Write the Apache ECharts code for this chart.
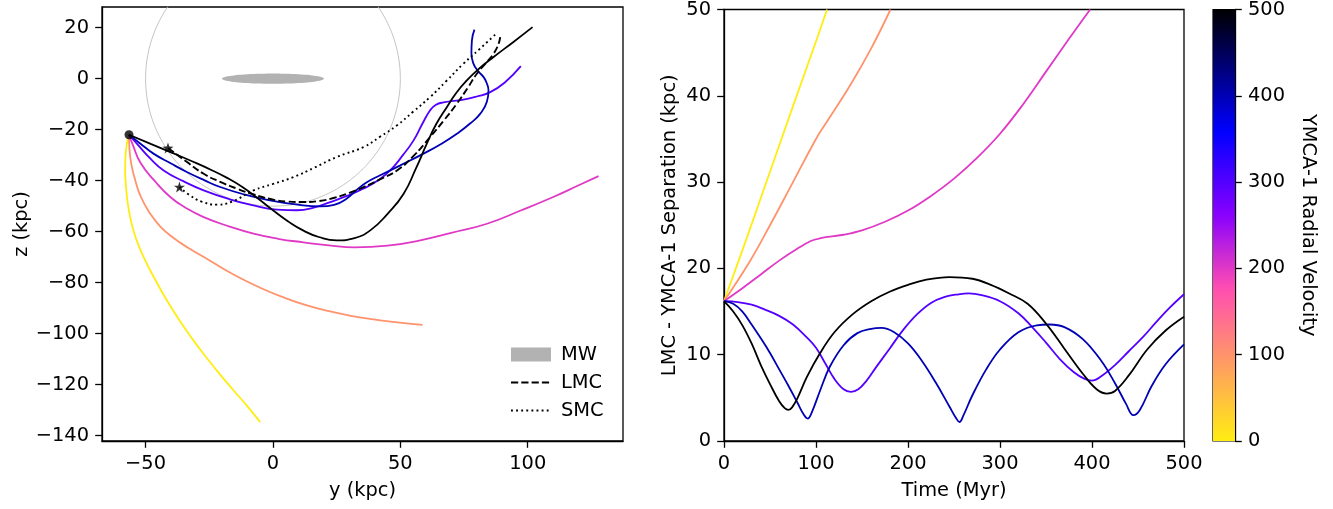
<!DOCTYPE html>
<html>
<head>
<meta charset="utf-8">
<script src="https://cdn.jsdelivr.net/npm/echarts@6/dist/echarts.min.js"></script>
<style>
  html, body { margin: 0; padding: 0; background: #ffffff; }
  #chart { width: 1333px; height: 509px; }
</style>
</head>
<body>
<div id="chart"></div>
<script>
// ---- Orbit data: (y, z) in kpc, one list per trial radial velocity ----
const velocities = [0, 100, 200, 300, 400, 500];

const orbitV0 = [[-56.5,-22],[-57.4,-26],[-57.9,-31],[-58.0,-36],[-57.7,-42],[-57.1,-48],[-56.1,-54],[-54.6,-60],
  [-52.7,-65.5],[-50.3,-71],[-47.2,-77],[-41.6,-87],[-35.2,-97],[-28.7,-106],[-22,-114.5],[-15.5,-122.2],[-10,-128.5],[-5,-134.7]];
const orbitV100 = [[-56.5,-22],[-56.3,-28],[-55.5,-34],[-54,-40],[-52,-46],[-48.5,-52.5],[-44.2,-58],[-39,-62.5],
  [-33,-66.5],[-25,-71.2],[-15.5,-76.8],[-5,-82],[4.2,-85.8],[13,-88.8],[22.5,-91.3],[30,-92.9],[38,-94.2],[48,-95.5],[58.7,-96.6]];
const orbitV200 = [[-56.5,-22],[-55,-26],[-52,-33],[-46.5,-40],[-40.3,-46.4],[-34,-50.8],[-27.2,-54.3],[-17,-58],
  [-7.6,-60.8],[2,-62.8],[12,-64.2],[22,-65.4],[32,-66.2],[45,-65.5],[57.8,-63.4],[70,-60.5],[84,-56.9],
  [97,-51.8],[110,-46.4],[120,-41.8],[127.8,-38.2]];
const orbitV300 = [[-56.5,-22],[-53,-26],[-48,-31.5],[-42.9,-36],[-35,-40.3],[-27.2,-43.8],[-17,-47.3],[-7.6,-49.7],
  [1.6,-51.4],[9.4,-51.6],[16,-50.6],[22.5,-48.4],[29,-46],[35.6,-43.1],[41,-40],[46,-36],[51,-30],[55.2,-24.2],
  [58.5,-18],[61.7,-12.4],[64,-10.2],[67,-9.3],[74.8,-8.2],[80,-7],[85.3,-5.3],[91,-1.5],[97.3,4.9]];
const orbitV400 = [[-56.5,-22],[-52,-25.5],[-46.9,-29.4],[-40,-33.3],[-33.8,-36.6],[-27,-39.8],[-20.7,-42.5],[-11,-45.5],
  [-1.1,-47.7],[9,-49.3],[18.6,-50.1],[24,-49.5],[29,-47],[33,-43.5],[37,-40.5],[42.1,-37.9],[50,-34],[59.1,-29.4],
  [66,-25.6],[72.2,-21.6],[77.5,-17.5],[81.4,-13.7],[84,-9],[84.6,-4.6],[83.8,-1.5],[82.7,0.6],[80.5,3],[78.7,5.9],
  [77.9,10],[78.1,15],[79.1,19.2]];
const orbitV500 = [[-56.5,-22],[-48,-25.6],[-40,-28.9],[-32,-32.3],[-24,-35.9],[-18,-38.9],[-12,-42.5],[-6,-46.9],
  [0,-51.6],[6,-56],[12,-59.6],[18,-62.1],[25,-63.4],[32,-62.5],[38.2,-59.5],[45,-53],[51.3,-45.1],[56,-35.5],
  [60.4,-25.5],[64,-18],[68.3,-11.1],[72,-5.5],[76.1,-0.7],[81,4],[86.6,8.5],[94.4,14.4],[101.9,20.2]];

const lmcOrbit = [[-41.2,-27.2],[-34,-32.5],[-27.2,-37.3],[-20.7,-40.5],[-14,-43.2],[-7.6,-45.4],[-1,-47.2],[5.5,-48.2],
  [12,-48.4],[18,-48],[23.8,-46.8],[30,-44.8],[35.6,-42.5],[42,-39.5],[48.7,-36],[55,-30.5],[61.7,-22.9],[67,-16.5],
  [72.2,-9.8],[76.5,-3.5],[80.1,2],[83.5,6],[86.6,9.8],[88.5,13.5],[89.2,16.3]];
const smcOrbit = [[-36.7,-42.5],[-33,-45.5],[-28,-48.2],[-22,-49.4],[-16,-48.2],[-7.6,-43.8],[0,-41.3],[8.1,-38.6],
  [16,-35],[25.1,-30.7],[35.6,-26.8],[42,-22.8],[48.7,-18.3],[55,-13],[61.7,-7.2],[68,-1],[74.8,5.9],[81,11.5],[87.9,17.9]];

const clusterNow = [[-56.5, -22]];
const lmcNow = [[-41.2, -27.2]];
const smcNow = [[-36.7, -42.5]];

// Milky Way disc (half length, half thickness) and reference sphere radius, kpc
const mwDisc = [20, 2];
const sphereRadius = 50;

// ---- Separation data: (time in Myr, separation in kpc) ----
const sepV0 = [[0,16.2],[25,23.6],[50,31.2],[75,38.8],[100,46.3],[112,50]];
const sepV100 = [[0,16.2],[28,20.8],[50,25.0],[75,30.0],[100,35],[110,36.7],[137,41.2],[160,45.5],[181,50]];
const sepV200 = [[0,16.2],[20,17.7],[40,19.3],[60,20.9],[80,22.3],[95,23.2],[105,23.5],[130,23.9],[150,24.4],
  [175,25.4],[200,26.7],[225,28.4],[250,30.4],[275,32.8],[300,35.6],[325,39.0],[350,42.8],[375,46.6],[398,50]];
const sepV300 = [[0,16.2],[15,16.1],[30,15.8],[45,15.2],[60,14.5],[75,13.5],[90,12.0],[100,10.8],[110,9.0],[120,7.2],
  [130,6.0],[138,5.7],[146,6.0],[155,7.0],[165,8.5],[180,10.7],[195,12.9],[210,14.7],[225,16.0],[240,16.7],[255,17.0],
  [266,17.1],[280,16.9],[300,16.2],[320,14.8],[335,13.2],[350,11.4],[365,9.5],[380,8.0],[392,7.2],[400,7.0],[410,7.5],
  [425,8.8],[440,10.4],[455,12.0],[470,13.8],[485,15.5],[500,17.0]];
const sepV400 = [[0,16.2],[10,15.9],[20,15.0],[30,13.5],[40,11.9],[50,10.2],[60,8.3],[70,6.4],[80,4.4],[87,3.0],[91,2.6],
  [95,3.2],[105,6.0],[115,8.6],[130,11.1],[145,12.5],[160,13.0],[171,13.1],[185,12.6],[200,11.3],[215,9.3],[230,6.8],
  [245,4.0],[252,2.7],[256,2.2],[260,2.9],[270,5.3],[285,8.3],[300,10.6],[320,12.6],[340,13.4],[354,13.5],[370,13.2],
  [390,11.8],[410,9.3],[425,6.7],[437,4.3],[445,3.0],[452,3.6],[465,6.4],[480,8.9],[500,11.2]];
const sepV500 = [[0,16.2],[10,15.0],[20,13.4],[30,11.3],[40,8.8],[50,6.6],[60,4.6],[66,3.8],[70,3.6],[74,3.9],[80,5.0],
  [90,7.4],[104,10.1],[120,12.6],[140,14.7],[160,16.2],[180,17.3],[200,18.1],[220,18.7],[245,19.0],[270,18.8],
  [290,18.1],[310,17.1],[330,15.9],[350,13.6],[370,10.7],[390,7.8],[405,6.0],[416,5.5],[425,5.8],[440,7.6],
  [460,10.6],[480,12.8],[500,14.4]];

// ---- Tick values ----
const yTicks = [-50, 0, 50, 100];
const zTicks = [-140, -120, -100, -80, -60, -40, -20, 0, 20];
const timeTicks = [0, 100, 200, 300, 400, 500];
const sepTicks = [0, 10, 20, 30, 40, 50];
const velTicks = [0, 100, 200, 300, 400, 500];

const orbits = [orbitV0, orbitV100, orbitV200, orbitV300, orbitV400, orbitV500];
const separations = [sepV0, sepV100, sepV200, sepV300, sepV400, sepV500];

// gnuplot2 colour map, used over its lower part and reversed (high velocity = dark)
function gnuplot2(x) {
  const c = v => Math.max(0, Math.min(1, v));
  const r = c(x / 0.32 - 0.78125);
  const g = c(2 * x - 0.84);
  let b;
  if (x < 0.25) b = 4 * x;
  else if (x < 0.42) b = 1;
  else if (x < 0.92) b = -2 * x + 1.84;
  else b = x / 0.08 - 11.5;
  b = c(b);
  const h = v => Math.round(v * 255).toString(16).padStart(2, '0');
  return '#' + h(r) + h(g) + h(b);
}
const velMin = velTicks[0], velMax = velTicks[velTicks.length - 1];
function velColor(v) { return gnuplot2(0.885 * (1 - (v - velMin) / (velMax - velMin))); }

const FONT = 'DejaVu Sans';
const FS = 19.4;
const minus = v => (v < 0 ? '\u2212' + Math.abs(v) : String(v));

const spherePts = [];
for (let i = 0; i <= 240; i++) {
  const a = i / 240 * 2 * Math.PI;
  spherePts.push([sphereRadius * Math.cos(a), sphereRadius * Math.sin(a)]);
}

const colorStops = [];
for (let i = 0; i <= 50; i++) {
  const f = i / 50;
  colorStops.push({ offset: f, color: velColor(velMax - f * (velMax - velMin)) });
}

const STAR = 'path://M0,-10 L2.35,-3.24 L9.51,-3.09 L3.8,1.24 L5.88,8.09 L0,4 L-5.88,8.09 L-3.8,1.24 L-9.51,-3.09 L-2.35,-3.24 Z';

function valueAxis(extra, ticks) {
  const tick = { show: true, inside: false, length: 6.8, lineStyle: { color: '#000', width: 1.3 } };
  const label = { color: '#000', fontFamily: FONT, fontSize: FS, margin: 13, formatter: minus };
  if (ticks) { tick.customValues = ticks; label.customValues = ticks; }
  return Object.assign({
    type: 'value',
    axisLine: { show: true, onZero: false, lineStyle: { color: '#000', width: 1.3 } },
    axisTick: tick,
    axisLabel: label,
    splitLine: { show: false },
    nameLocation: 'middle',
    nameTextStyle: { color: '#000', fontFamily: FONT, fontSize: FS }
  }, extra);
}

const series = [];

// reference sphere
series.push({
  type: 'line', xAxisIndex: 0, yAxisIndex: 0, data: spherePts, showSymbol: false, silent: true,
  lineStyle: { color: '#bdbdbd', width: 0.9 }, z: 1
});

// Milky Way disc
series.push({
  name: 'MW', type: 'custom', xAxisIndex: 0, yAxisIndex: 0, data: [[0, 0]], z: 2,
  itemStyle: { color: '#b2b2b2' },
  renderItem: function (params, api) {
    const pts = [];
    for (let i = 0; i <= 90; i++) {
      const a = i / 90 * 2 * Math.PI;
      pts.push(api.coord([mwDisc[0] * Math.cos(a), mwDisc[1] * Math.sin(a)]));
    }
    return { type: 'polygon', shape: { points: pts }, style: { fill: '#b2b2b2' } };
  }
});

velocities.forEach((v, i) => {
  series.push({
    type: 'line', xAxisIndex: 0, yAxisIndex: 0, data: orbits[i], showSymbol: false, smooth: 0.5,
    lineStyle: { color: velColor(v), width: 1.8 }, z: 3
  });
  series.push({
    type: 'line', xAxisIndex: 1, yAxisIndex: 1, data: separations[i], showSymbol: false, smooth: 0.4,
    lineStyle: { color: velColor(v), width: 1.8 }, z: 3
  });
});

series.push({
  name: 'LMC', type: 'line', xAxisIndex: 0, yAxisIndex: 0, data: lmcOrbit, showSymbol: false, smooth: 0.5,
  lineStyle: { color: '#000', width: 1.9, type: [7.2, 3.1] }, itemStyle: { color: '#000' }, z: 4
});
series.push({
  name: 'SMC', type: 'line', xAxisIndex: 0, yAxisIndex: 0, data: smcOrbit, showSymbol: false, smooth: 0.5,
  lineStyle: { color: '#000', width: 1.9, type: [1.9, 3.2] }, itemStyle: { color: '#000' }, z: 4
});

series.push({
  type: 'scatter', xAxisIndex: 0, yAxisIndex: 0, data: clusterNow, symbol: 'circle', symbolSize: 9,
  itemStyle: { color: '#000' }, z: 5
});
series.push({
  type: 'scatter', xAxisIndex: 0, yAxisIndex: 0, data: lmcNow.concat(smcNow), symbol: STAR, symbolSize: 11,
  itemStyle: { color: '#000' }, z: 5
});

// colour bar
series.push({
  type: 'bar', xAxisIndex: 2, yAxisIndex: 2, data: [velMax], barWidth: '100%', silent: true,
  itemStyle: { color: { type: 'linear', x: 0, y: 0, x2: 0, y2: 1, colorStops: colorStops } }
});

const option = {
  animation: false,
  backgroundColor: '#ffffff',
  grid: [
    { left: 102, top: 7, width: 521, height: 434, show: true, borderColor: '#000', borderWidth: 1.3, backgroundColor: 'transparent' },
    { left: 724, top: 7, width: 460, height: 434, show: true, borderColor: '#000', borderWidth: 1.3, backgroundColor: 'transparent' },
    { left: 1213, top: 7, width: 22, height: 434, show: true, borderColor: '#000', borderWidth: 1.2, backgroundColor: 'transparent' }
  ],
  xAxis: [
    valueAxis({ gridIndex: 0, min: -67.1, max: 137.4, name: 'y (kpc)', nameGap: 40 }, yTicks),
    valueAxis({ gridIndex: 1, min: timeTicks[0], max: timeTicks[timeTicks.length - 1], interval: 100, name: 'Time (Myr)', nameGap: 40 }),
    { type: 'category', gridIndex: 2, data: ['v'], show: false }
  ],
  yAxis: [
    valueAxis({ gridIndex: 0, min: -142.1, max: 28.1, name: 'z (kpc)', nameGap: 70 }, zTicks),
    valueAxis({ gridIndex: 1, min: sepTicks[0], max: sepTicks[sepTicks.length - 1], interval: 10, name: 'LMC - YMCA-1 Separation (kpc)', nameGap: 45 }),
    valueAxis({ gridIndex: 2, min: velMin, max: velMax, interval: 100, position: 'right',
      name: 'YMCA-1 Radial Velocity', nameGap: 64, nameRotate: -90 })
  ],
  legend: {
    data: [
      { name: 'MW', icon: 'rect' },
      { name: 'LMC', itemStyle: { opacity: 0 } },
      { name: 'SMC', itemStyle: { opacity: 0 } }
    ],
    orient: 'vertical', left: 505, top: 340, itemWidth: 40, itemHeight: 14, itemGap: 9,
    selectedMode: false,
    textStyle: { color: '#000', fontFamily: FONT, fontSize: FS, padding: [0, 0, 0, 5] }
  },
  series: series
};

const chart = echarts.init(document.getElementById('chart'), null, { renderer: 'canvas' });
chart.setOption(option);
</script>
</body>
</html>
